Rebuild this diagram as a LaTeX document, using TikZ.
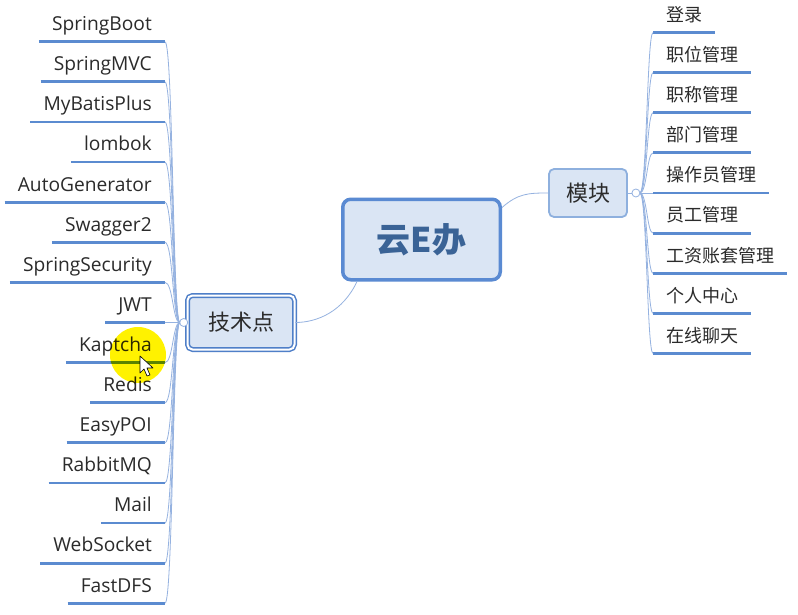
\documentclass[tikz,border=0pt]{standalone}
\usepackage{fontspec}
\setmainfont{Open Sans}
\newfontfamily\cjk{Noto Sans CJK SC}
\definecolor{hubfill}{HTML}{DAE5F4}
\definecolor{hubline}{HTML}{5A8AD2}
\definecolor{hubtext}{HTML}{3A6396}
\definecolor{techline}{HTML}{4F7FC8}
\definecolor{modline}{HTML}{8EB0DE}
\definecolor{lineblue}{HTML}{5B8BD0}
\definecolor{connblue}{HTML}{95B2E0}
\definecolor{leaftext}{HTML}{2B2B2B}

\begin{document}
\begin{tikzpicture}[
  x=1pt, y=-1pt,
  conn/.style={draw=connblue, line width=0.8pt},
  uline/.style={draw=lineblue, line width=2.8pt},
  leafbase/.style={inner xsep=13pt, inner ysep=0pt, text height=14pt, text depth=11pt,
    text=leaftext, font=\fontsize{19.2}{21}\selectfont,
    append after command={(\tikzlastnode.south west) edge[uline] (\tikzlastnode.south east)}},
  leafL/.style={leafbase, anchor=south east},
  leafR/.style={leafbase, anchor=south west, font=\cjk\fontsize{18}{20}\selectfont},
  hub/.style={draw=hubline, line width=3.5pt, fill=hubfill, rounded corners=8pt,
    minimum width=157.5pt, minimum height=80.5pt, text=hubtext,
    font=\cjk\bfseries\fontsize{34}{36}\selectfont},
  branch/.style={fill=hubfill, rounded corners=5pt, text=leaftext,
    font=\cjk\fontsize{22}{24}\selectfont},
  techbox/.style={branch, draw=techline, line width=1.5pt, double=white,
    double distance=2pt, minimum width=107pt, minimum height=54pt},
  modbox/.style={branch, draw=modline, line width=1.8pt,
    minimum width=78pt, minimum height=48pt},
  junction/.style={circle, draw=connblue, fill=white, line width=0.8pt,
    minimum size=8pt, inner sep=0pt}
]

\fill[white] (0,0) rectangle (798,615);

\node[hub] (app) at (421.5,239.5) {云E办};

% technology branch
\begin{scope}[grow=left, level distance=76pt, sibling distance=40.1pt,
  every child node/.style={leafL},
  edge from parent/.style={conn},
  edge from parent path={([xshift=-7pt]\tikzparentnode.west) .. controls +(-7,0) and +(8,0) .. (\tikzchildnode.south east)}]
\node[techbox] (tech) at (241,322.5) {技术点}
  child {node {SpringBoot}}
  child {node {SpringMVC}}
  child {node {MyBatisPlus}}
  child {node {lombok}}
  child {node {AutoGenerator}}
  child {node {Swagger2}}
  child {node {SpringSecurity}}
  child {node {JWT}}
  child {node {Kaptcha}}
  child {node {Redis}}
  child {node {EasyPOI}}
  child {node {RabbitMQ}}
  child {node {Mail}}
  child {node {WebSocket}}
  child {node {FastDFS}};
\end{scope}

% module branch
\begin{scope}[grow'=right, level distance=65pt, sibling distance=40.1pt,
  every child node/.style={leafR},
  edge from parent/.style={conn},
  edge from parent path={([xshift=12pt]\tikzparentnode.east) .. controls +(7,0) and +(-6,0) .. (\tikzchildnode.south west)}]
\node[modbox] (mod) at (588,193) {模块}
  child {node {登录}}
  child {node {职位管理}}
  child {node {职称管理}}
  child {node {部门管理}}
  child {node {操作员管理}}
  child {node {员工管理}}
  child {node {工资账套管理}}
  child {node {个人中心}}
  child {node {在线聊天}};
\end{scope}

\node[junction] (techJ) at ([xshift=-3pt]tech.west) {};
\node[junction] (modJ) at ([xshift=8pt]mod.east) {};
\draw[conn] (mod.east) -- (modJ.west);

\draw[conn] ([xshift=16pt]app.south west) .. controls +(-14,30) and +(22,0) .. (tech.east);
\draw[conn] ([yshift=32pt]app.east) .. controls +(16,-14) and +(-20,0) .. (mod.west);

% pointer highlight
\fill[yellow, blend mode=multiply] (138,355) circle[radius=28];
\draw[fill=white, line width=0.6pt, line join=round] (140,356) -- (140,373) -- (144,369)
  -- (147,376) -- (150,375) -- (147,368) -- (153,368) -- cycle;

\end{tikzpicture}
\end{document}
